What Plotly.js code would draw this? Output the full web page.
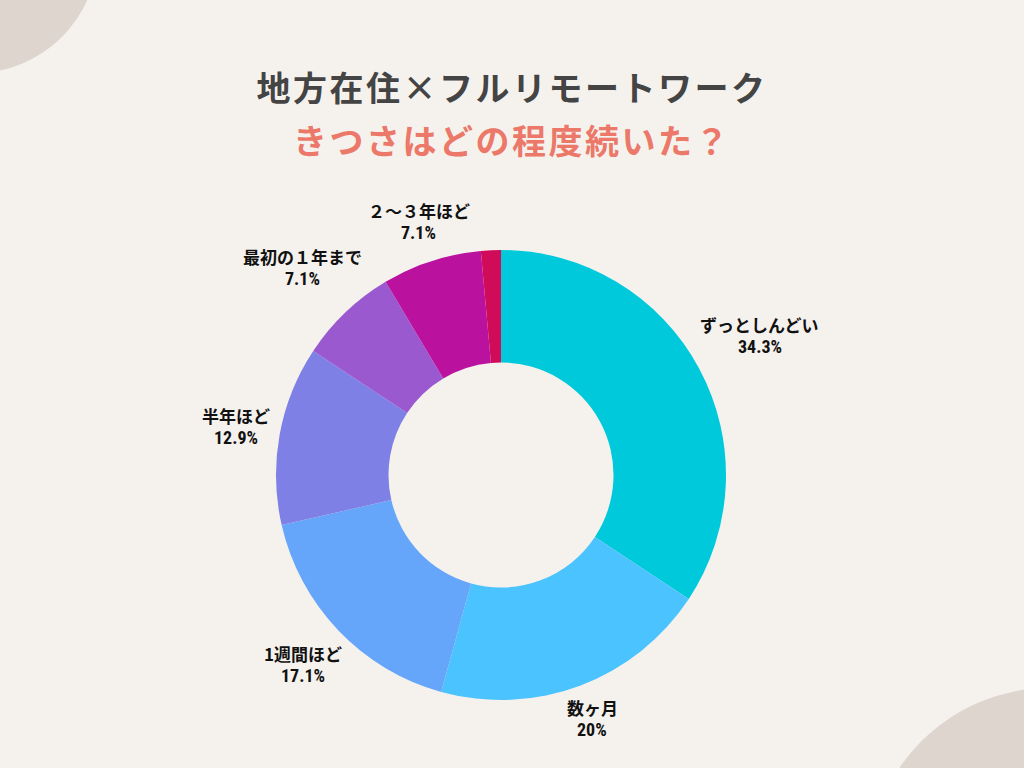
<!DOCTYPE html>
<html>
<head>
<meta charset="utf-8">
<script src="https://cdn.plot.ly/plotly-3.0.1.min.js"></script>
<style>
  html, body { margin: 0; padding: 0; background: #F5F2EE; }
  #chart { width: 1024px; height: 768px; }
  .gtitle { letter-spacing: 2.5px; }
</style>
</head>
<body>
<div id="chart"></div>
<script>
const titleLine1 = '地方在住×フルリモートワーク';
const titleLine2 = 'きつさはどの程度続いた？';
const categories = ['ずっとしんどい', '数ヶ月', '1週間ほど', '半年ほど', '最初の１年まで', '２〜３年ほど', 'その他'];
const counts = [24, 14, 12, 9, 5, 5, 1];
const sliceColors = ['#00C9DB', '#4BC3FE', '#66A6FA', '#7F80E6', '#9B59CF', '#BA129F', '#D00C5A'];
const showLabel = [true, true, true, true, true, true, false];

// letter spacing for the second title line
const st = document.createElement('style');
st.textContent = 'text[data-unformatted="' + titleLine2 + '"] { letter-spacing: 2.5px; }';
document.head.appendChild(st);

const W = 1024, H = 768;
const cx = 501, cy = 475, R = 225;
const labelGap = 232;      // radius of the line that label boxes sit against
const blockH = 40;         // height of the two-line label block
const lineOffset = 11;     // half distance between the two label lines

const nameFamily = '"Noto Sans CJK JP", "Noto Sans", sans-serif';
const pctFamily = '"Liberation Sans Narrow", "Roboto Condensed", "DejaVu Sans Condensed", "Liberation Sans", sans-serif';
const nameSize = 17, pctSize = 18;

const ctx = document.createElement('canvas').getContext('2d');
function textWidth(t, size, fam) { ctx.font = 'bold ' + size + 'px ' + fam; return ctx.measureText(t).width; }

const total = counts.reduce((a, b) => a + b, 0);
const annotations = [];
let cum = 0;
counts.forEach((v, i) => {
  const mid = (cum + v / 2) / total;
  cum += v;
  if (!showLabel[i]) return;
  const pct = (v / total * 100).toFixed(1).replace(/\.0$/, '') + '%';
  const th = 2 * Math.PI * mid;
  const ux = Math.sin(th), uy = -Math.cos(th);
  const w = Math.max(textWidth(categories[i], nameSize, nameFamily), textWidth(pct, pctSize, pctFamily));
  const d = labelGap + Math.abs(ux) * w / 2 + Math.abs(uy) * blockH / 2;
  const bx = cx + d * ux, by = cy + d * uy;
  annotations.push({
    text: categories[i], xref: 'paper', yref: 'paper',
    x: bx / W, y: 1 - (by - lineOffset) / H, xanchor: 'center', yanchor: 'middle', showarrow: false,
    font: { family: nameFamily, size: nameSize, color: '#111111', weight: 'bold' }
  });
  annotations.push({
    text: pct, xref: 'paper', yref: 'paper',
    x: bx / W, y: 1 - (by + lineOffset) / H, xanchor: 'center', yanchor: 'middle', showarrow: false,
    font: { family: pctFamily, size: pctSize, color: '#111111', weight: 'bold' }
  });
});

annotations.push({
  text: titleLine2, xref: 'paper', yref: 'paper',
  x: 0.5, y: 1 - 140 / H, xanchor: 'center', yanchor: 'middle', showarrow: false,
  font: { family: '"Noto Sans CJK JP", sans-serif', size: 34, color: '#EB7868', weight: 'bold' }
});

const trace = {
  type: 'pie',
  labels: categories,
  values: counts,
  textinfo: 'none',
  sort: false,
  direction: 'clockwise',
  rotation: 0,
  hole: 0.5,
  marker: { colors: sliceColors, line: { width: 0 } },
  domain: { x: [(cx - R) / W, (cx + R) / W], y: [1 - (cy + R) / H, 1 - (cy - R) / H] },
  hoverinfo: 'none',
  showlegend: false
};

const layout = {
  width: W, height: H,
  margin: { l: 0, r: 0, t: 0, b: 0 },
  paper_bgcolor: '#F5F2EE',
  plot_bgcolor: '#F5F2EE',
  showlegend: false,
  title: {
    text: titleLine1,
    x: 0.5, xanchor: 'center', xref: 'paper',
    y: 1 - 89 / H, yanchor: 'middle', yref: 'container',
    font: { family: '"Noto Sans CJK JP", sans-serif', size: 34, color: '#444444', weight: 'bold' }
  },
  annotations: annotations,
  shapes: [
    { type: 'circle', xref: 'paper', yref: 'paper', layer: 'below',
      x0: (-25 - 123) / W, x1: (-25 + 123) / W, y0: 1 - (-50 + 123) / H, y1: 1 - (-50 - 123) / H,
      fillcolor: '#DED5CE', line: { width: 0 } },
    { type: 'circle', xref: 'paper', yref: 'paper', layer: 'below',
      x0: (1050 - 182) / W, x1: (1050 + 182) / W, y0: 1 - (870 + 182) / H, y1: 1 - (870 - 182) / H,
      fillcolor: '#DED5CE', line: { width: 0 } }
  ]
};

Plotly.newPlot('chart', [trace], layout, { displayModeBar: false, staticPlot: true });
</script>
</body>
</html>
